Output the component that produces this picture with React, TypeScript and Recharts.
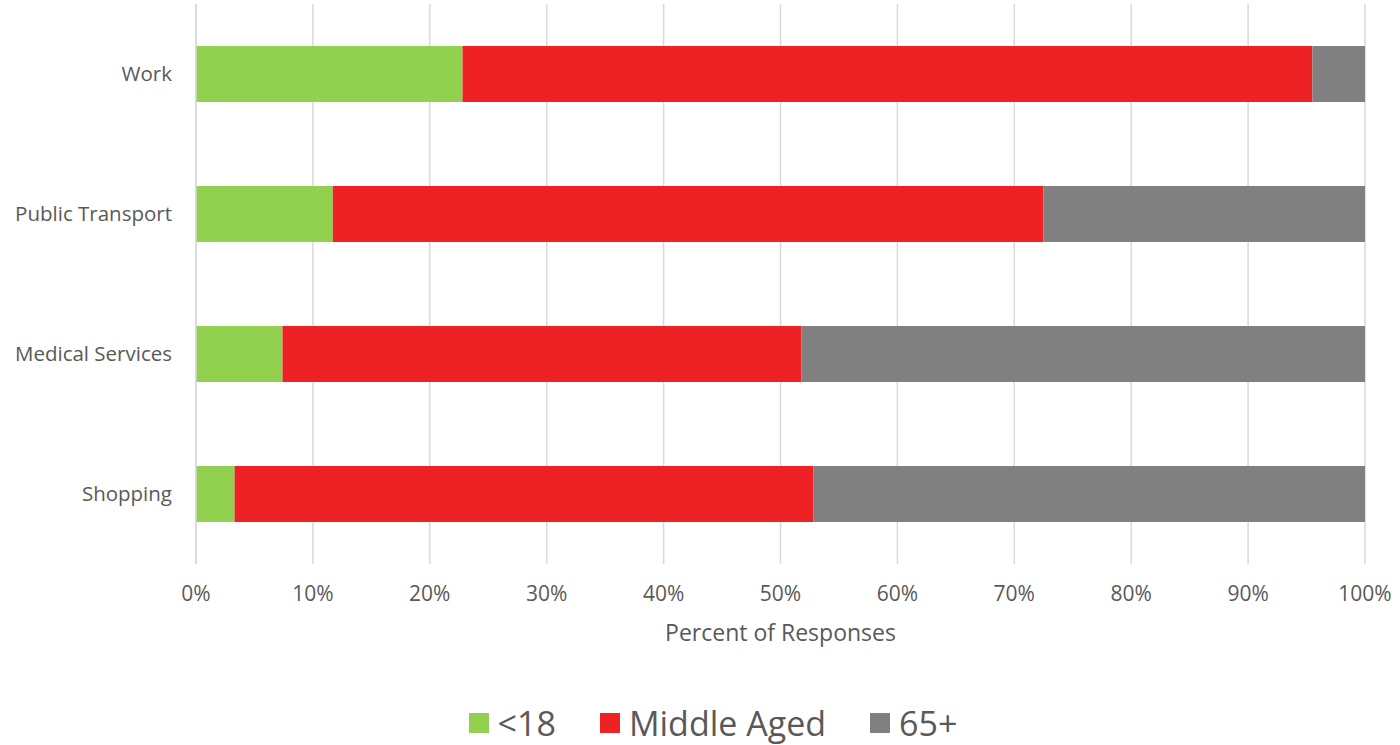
import React from "react";
import {
  BarChart,
  Bar,
  XAxis,
  YAxis,
  CartesianGrid,
  Legend,
} from "recharts";

const categories = ["Work", "Public Transport", "Medical Services", "Shopping"];
const under18 = [22.8, 11.7, 7.4, 3.3];
const middleAged = [72.7, 60.8, 44.4, 49.5];
const over65 = [4.5, 27.5, 48.2, 47.2];
const xTicks = [0, 10, 20, 30, 40, 50, 60, 70, 80, 90, 100];

const SERIES = [
  { key: "under18", name: "<18", color: "#92D050" },
  { key: "middleAged", name: "Middle Aged", color: "#EE2224" },
  { key: "over65", name: "65+", color: "#808080" },
];

const data = categories.map((name, i) => ({
  name,
  under18: under18[i],
  middleAged: middleAged[i],
  over65: over65[i],
}));

const FONT = "'Open Sans', 'Noto Sans', sans-serif";
const TEXT = "#595959";

function LegendContent() {
  return (
    <div
      style={{
        display: "flex",
        justifyContent: "center",
        alignItems: "center",
        fontFamily: FONT,
        fontSize: 34,
        color: TEXT,
        gap: 44,
        paddingLeft: 26,
      }}
    >
      {SERIES.map((s) => (
        <div key={s.key} style={{ display: "flex", alignItems: "center" }}>
          <span
            style={{
              display: "inline-block",
              width: 20,
              height: 20,
              background: s.color,
              marginRight: 9,
            }}
          />
          <span>{s.name}</span>
        </div>
      ))}
    </div>
  );
}

export default function App() {
  return (
    <div style={{ position: "absolute", left: 0, top: 0, background: "#fff" }}>
      <BarChart
        width={1400}
        height={745}
        data={data}
        layout="vertical"
        margin={{ top: 4, right: 35, bottom: 101, left: 0 }}
      >
        <CartesianGrid horizontal={false} stroke="#d9d9d9" strokeWidth={1.5} />
        <XAxis
          type="number"
          domain={[0, 100]}
          ticks={xTicks}
          tickFormatter={(v) => `${v}%`}
          axisLine={false}
          tickLine={false}
          tickSize={0}
          tickMargin={22}
          height={80}
          tick={{ fill: TEXT, fontSize: 21, fontFamily: FONT }}
          label={{
            value: "Percent of Responses",
            position: "insideBottom",
            offset: 3,
            fill: TEXT,
            fontSize: 23,
            fontFamily: FONT,
          }}
        />
        <YAxis
          type="category"
          dataKey="name"
          width={196}
          axisLine={{ stroke: "#d9d9d9", strokeWidth: 1.5 }}
          tickLine={false}
          tickSize={0}
          tickMargin={24}
          tick={{ fill: TEXT, fontSize: 20.5, fontFamily: FONT }}
        />
        <Legend
          verticalAlign="middle"
          align="center"
          layout="horizontal"
          wrapperStyle={{ top: 700, left: 0, width: 1400 }}
          content={<LegendContent />}
        />
        {SERIES.map((s) => (
          <Bar
            key={s.key}
            dataKey={s.key}
            name={s.name}
            stackId="a"
            fill={s.color}
            barSize={56}
            isAnimationActive={false}
          />
        ))}
      </BarChart>
    </div>
  );
}
